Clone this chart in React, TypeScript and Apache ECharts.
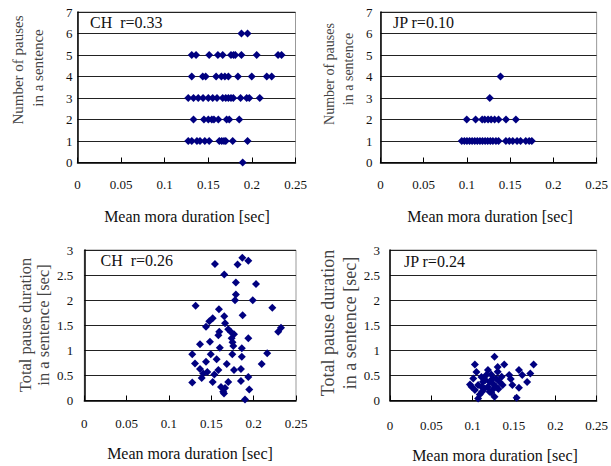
import React, { useEffect, useRef } from "react";
import * as echarts from "echarts";

// ---- data (x = mean mora duration [sec]) ----
const chCount: number[][] = [
  [0.188, 6], [0.195, 6],
  [0.131, 5], [0.136, 5], [0.151, 5], [0.161, 5], [0.1665, 5], [0.176, 5], [0.179, 5], [0.181, 5], [0.188, 5], [0.2055, 5], [0.23, 5], [0.234, 5],
  [0.131, 4], [0.1436, 4], [0.147, 4], [0.159, 4], [0.165, 4], [0.169, 4], [0.173, 4], [0.184, 4], [0.1998, 4], [0.217, 4], [0.2227, 4],
  [0.127, 3], [0.133, 3], [0.1385, 3], [0.144, 3], [0.15, 3], [0.155, 3], [0.16, 3], [0.1665, 3], [0.17, 3], [0.173, 3], [0.176, 3], [0.1787, 3], [0.187, 3], [0.194, 3], [0.197, 3], [0.209, 3],
  [0.133, 2], [0.145, 2], [0.15, 2], [0.154, 2], [0.1565, 2], [0.1615, 2], [0.171, 2], [0.174, 2], [0.1855, 2],
  [0.127, 1], [0.131, 1], [0.137, 1], [0.1405, 1], [0.146, 1], [0.151, 1], [0.1626, 1], [0.1654, 1], [0.168, 1], [0.17, 1], [0.178, 1], [0.195, 1],
  [0.1894, 0],
];

const jpCount: number[][] = [
  [0.1388, 4],
  [0.1264, 3],
  [0.0998, 2], [0.11, 2], [0.1176, 2], [0.1206, 2], [0.1244, 2], [0.128, 2], [0.132, 2], [0.1366, 2], [0.1452, 2], [0.1566, 2],
  [0.094, 1], [0.097, 1], [0.1, 1], [0.103, 1], [0.106, 1], [0.109, 1], [0.112, 1], [0.115, 1], [0.118, 1], [0.121, 1], [0.124, 1], [0.127, 1],
  [0.13, 1], [0.1335, 1], [0.1366, 1], [0.145, 1], [0.149, 1], [0.153, 1], [0.158, 1], [0.162, 1], [0.168, 1], [0.172, 1], [0.175, 1],
];

const chTotal: number[][] = [
  [0.1543, 2.72], [0.1653, 2.51], [0.181, 2.71], [0.1866, 2.845], [0.1937, 2.785], [0.179, 2.35], [0.2028, 2.32],
  [0.179, 2.115], [0.178, 2.0], [0.1989, 2.0], [0.1315, 1.89], [0.159, 1.82], [0.222, 1.85], [0.1653, 1.68],
  [0.187, 1.7], [0.1516, 1.64], [0.1476, 1.58], [0.1662, 1.54], [0.1437, 1.47], [0.17, 1.42], [0.2323, 1.45],
  [0.229, 1.37], [0.1594, 1.37], [0.1729, 1.37], [0.1583, 1.3], [0.1768, 1.32], [0.174, 1.24], [0.1937, 1.24],
  [0.175, 1.16], [0.1366, 1.12], [0.1484, 1.17], [0.176, 1.085], [0.16, 1.05], [0.186, 1.04], [0.1275, 0.92],
  [0.1493, 0.92], [0.1748, 0.92], [0.186, 0.87], [0.216, 0.94], [0.1563, 0.82], [0.1307, 0.74], [0.1437, 0.77],
  [0.1682, 0.73], [0.2095, 0.73], [0.1366, 0.63], [0.1583, 0.61], [0.1768, 0.61], [0.185, 0.63], [0.1405, 0.54],
  [0.1453, 0.57], [0.1386, 0.45], [0.1535, 0.52], [0.1937, 0.47], [0.1275, 0.36], [0.1516, 0.37], [0.17, 0.37],
  [0.185, 0.39], [0.1614, 0.27], [0.1662, 0.25], [0.164, 0.175], [0.1948, 0.22], [0.165, 0.14], [0.1898, 0.02],
];

const jpTotal: number[][] = [
  [0.1264, 0.87], [0.1027, 0.72], [0.1382, 0.72], [0.1738, 0.72], [0.1303, 0.67], [0.1185, 0.61], [0.1046, 0.57],
  [0.156, 0.61], [0.1698, 0.54], [0.1442, 0.51], [0.1224, 0.52], [0.16, 0.51], [0.1106, 0.47], [0.1007, 0.44],
  [0.1283, 0.44], [0.1461, 0.43], [0.1153, 0.41], [0.1659, 0.37], [0.0968, 0.32], [0.1244, 0.34], [0.1066, 0.31],
  [0.1363, 0.31], [0.1481, 0.31], [0.1185, 0.275], [0.1311, 0.23], [0.1027, 0.21], [0.156, 0.255], [0.1224, 0.16],
  [0.1086, 0.12], [0.1532, 0.055], [0.1066, 0.04], [0.1264, 0.075],
  [0.1126, 0.375], [0.1165, 0.51], [0.1205, 0.375], [0.1146, 0.24], [0.1106, 0.275], [0.1244, 0.44], [0.1283, 0.275],
  [0.1323, 0.375], [0.1351, 0.475], [0.1303, 0.575], [0.1114, 0.175], [0.0987, 0.275], [0.1205, 0.175], [0.1256, 0.24],
];

const panelLabels = ["CH  r=0.33", "JP r=0.10", "CH  r=0.26", "JP r=0.24"];
const xTitle = "Mean mora duration [sec]";
const countTitle = ["Number of pauses", "in a sentence"];
const totalTitle = ["Total pause duration", "in a sentence [sec]"];

const FONT = "'Liberation Serif', 'Times New Roman', serif";
const NAVY = "#000080";

export default function App() {
  const ref = useRef<HTMLDivElement>(null);

  useEffect(() => {
    if (!ref.current) return;
    const chart = echarts.init(ref.current, undefined, { renderer: "svg" });

    const grids = [
      { left: 77.5, top: 12, width: 218, height: 150.5 },
      { left: 380.5, top: 12, width: 220.5, height: 150.5 },
      { left: 84.3, top: 250, width: 211.7, height: 150.5 },
      { left: 390, top: 250, width: 211, height: 150.5 },
    ];
    const xLabelMargin = [15, 15, 16, 18];
    const yLabelMargin = [5, 8, 11, 10];
    const yMax = [7, 7, 3, 3];
    const yInt = [1, 1, 0.5, 0.5];
    const datasets = [chCount, jpCount, chTotal, jpTotal];

    const text = (
      str: string,
      x: number,
      y: number,
      size: number,
      opts: any = {}
    ) => ({
      type: "text",
      x,
      y,
      rotation: opts.rotation || 0,
      z: 100,
      style: {
        text: str,
        fontSize: size,
        fontFamily: FONT,
        fill: opts.fill || "#111",
        textAlign: opts.align || "center",
        align: opts.align || "center",
        textVerticalAlign: "middle",
        verticalAlign: "middle",
        whiteSpace: "pre",
      },
    });

    const R = Math.PI / 2;
    const ytitleColor = "#444";
    const graphic = [
      // panel labels
      text(panelLabels[0], 90, 22, 16, { align: "left" }),
      text(panelLabels[1], 393, 22, 16, { align: "left" }),
      text(panelLabels[2], 100.5, 260.5, 16, { align: "left" }),
      text(panelLabels[3], 404, 261, 16, { align: "left" }),
      // x titles
      text(xTitle, 187, 216, 16),
      text(xTitle, 490, 216, 16),
      text(xTitle, 190, 453, 16),
      text(xTitle, 495, 455, 16),
      // y titles
      text(countTitle[0], 18, 70, 15, { rotation: R, fill: ytitleColor }),
      text(countTitle[1], 38, 68, 15, { rotation: R, fill: ytitleColor }),
      text(countTitle[0], 329, 74, 14, { rotation: R, fill: ytitleColor }),
      text(countTitle[1], 348, 69, 14, { rotation: R, fill: ytitleColor }),
      text(totalTitle[0], 25, 325, 16.5, { rotation: R, fill: ytitleColor }),
      text(totalTitle[1], 43, 325, 16.5, { rotation: R, fill: ytitleColor }),
      text(totalTitle[0], 328, 323, 18, { rotation: R, fill: ytitleColor }),
      text(totalTitle[1], 350, 323, 18, { rotation: R, fill: ytitleColor }),
    ];

    chart.setOption({
      animation: false,
      backgroundColor: "#fff",
      grid: grids.map((g) => ({
        ...g,
        show: true,
        borderColor: "#999",
        borderWidth: 1,
        backgroundColor: "transparent",
      })),
      xAxis: grids.map((_, i) => ({
        type: "value",
        gridIndex: i,
        min: 0,
        max: 0.25,
        interval: 0.05,
        axisLine: { show: true, onZero: false, lineStyle: { color: "#000", width: 1.5 } },
        axisTick: { show: true, inside: true, length: 5, lineStyle: { color: "#000" } },
        axisLabel: { margin: xLabelMargin[i], fontFamily: FONT, fontSize: 13, color: "#111" },
        splitLine: { show: false },
      })),
      yAxis: grids.map((_, i) => ({
        type: "value",
        gridIndex: i,
        min: 0,
        max: yMax[i],
        interval: yInt[i],
        axisLine: { show: true, onZero: false, lineStyle: { color: "#000", width: 1.5 } },
        axisTick: { show: false },
        axisLabel: { margin: yLabelMargin[i], fontFamily: FONT, fontSize: 13, color: "#111" },
        splitLine: { show: true, lineStyle: { color: "#222", width: 1 } },
      })),
      series: datasets.map((d, i) => ({
        type: "scatter",
        xAxisIndex: i,
        yAxisIndex: i,
        data: d,
        symbol: "diamond",
        symbolSize: 8,
        clip: false,
        itemStyle: { color: NAVY, opacity: 1 },
        z: 5,
      })),
      graphic,
    });

    return () => chart.dispose();
  }, []);

  return (
    <div
      ref={ref}
      style={{ position: "fixed", left: 0, top: 0, width: 611, height: 466, background: "#fff" }}
    />
  );
}
